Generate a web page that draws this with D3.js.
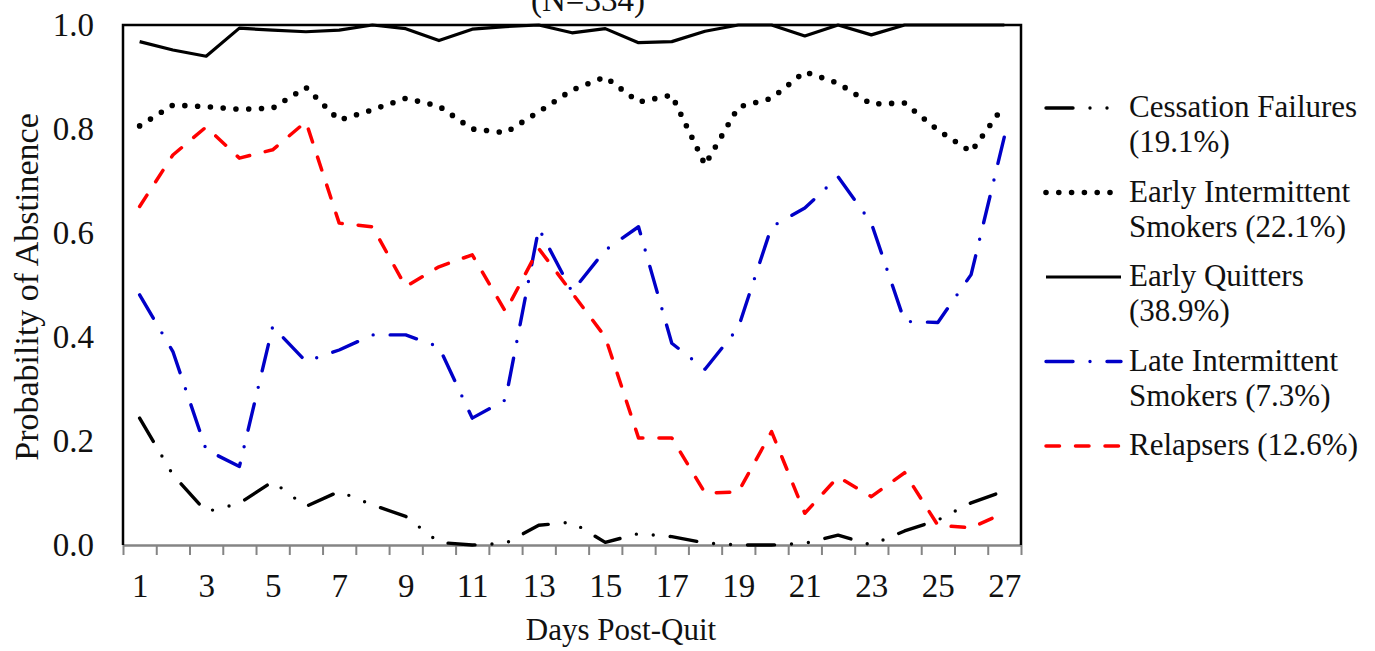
<!DOCTYPE html>
<html>
<head>
<meta charset="utf-8">
<script src="https://cdn.jsdelivr.net/npm/d3@7"></script>
<style>
  body { margin: 0; background: #fff; }
  text { font-family: 'Liberation Serif', 'Times New Roman', serif; fill: #111; }
</style>
</head>
<body>
<div id="graph"></div>
<script>
'use strict';

// days on the x axis
var days = [1, 2, 3, 4, 5, 6, 7, 8, 9, 10, 11, 12, 13, 14, 15, 16, 17, 18, 19, 20, 21, 22, 23, 24, 25, 26, 27];
var dayLabels = [1, 3, 5, 7, 9, 11, 13, 15, 17, 19, 21, 23, 25, 27];
var yTicks = [0, 0.2, 0.4, 0.6, 0.8, 1.0];

// probability of abstinence per day
var cessationFailures = [0.244, 0.135, 0.064, 0.080, 0.122, 0.074, 0.103, 0.077, 0.055, 0.005, 0.000, 0.003, 0.038, 0.044, 0.005, 0.022, 0.016, 0.004, 0.000, 0.000, 0.003, 0.019, 0.000, 0.027, 0.048, 0.081, 0.104];
var earlyIntermittent = [0.806, 0.846, 0.843, 0.838, 0.840, 0.880, 0.817, 0.837, 0.859, 0.844, 0.800, 0.793, 0.833, 0.875, 0.900, 0.852, 0.865, 0.731, 0.842, 0.859, 0.910, 0.888, 0.848, 0.850, 0.798, 0.756, 0.846];
var earlyQuitters = [0.968, 0.952, 0.940, 0.994, 0.990, 0.987, 0.990, 1.000, 0.993, 0.970, 0.992, 0.997, 1.000, 0.985, 0.993, 0.966, 0.968, 0.988, 1.000, 1.000, 0.979, 1.000, 0.981, 1.000, 1.000, 1.000, 1.000];
var lateIntermittent = [0.481, 0.372, 0.183, 0.151, 0.420, 0.353, 0.375, 0.404, 0.404, 0.381, 0.244, 0.279, 0.609, 0.487, 0.567, 0.612, 0.388, 0.338, 0.418, 0.612, 0.648, 0.708, 0.619, 0.430, 0.428, 0.520, 0.785];
var relapsers = [0.651, 0.750, 0.804, 0.744, 0.760, 0.814, 0.619, 0.612, 0.497, 0.535, 0.558, 0.449, 0.570, 0.485, 0.400, 0.206, 0.206, 0.100, 0.102, 0.218, 0.061, 0.131, 0.093, 0.139, 0.038, 0.033, 0.062];

var seriesNames = [
  ['Cessation Failures', '(19.1%)'],
  ['Early Intermittent', 'Smokers (22.1%)'],
  ['Early Quitters', '(38.9%)'],
  ['Late Intermittent', 'Smokers (7.3%)'],
  ['Relapsers (12.6%)']
];
var seriesValues = [cessationFailures, earlyIntermittent, earlyQuitters, lateIntermittent, relapsers];

// line styles, same order as the series
var styles = [
  { color: '#000', width: 3.4, dash: '27,17,0,17,0,17' },
  { color: '#000', width: 5.6, dash: '0,12.8' },
  { color: '#000', width: 3.2, dash: null },
  { color: '#0000c8', width: 3.4, dash: '27,17,0,17' },
  { color: '#ff0000', width: 3.5, dash: '13.5,16' }
];

var canvasWidth = 1375;
var canvasHeight = 651;
var plotLeft = 123, plotRight = 1021, plotTop = 25, plotBottom = 545;

var svg = d3.select('#graph')
  .append('svg')
  .attr('width', canvasWidth)
  .attr('height', canvasHeight);

var xScale = d3.scaleLinear().domain([0.5, 27.5]).range([plotLeft, plotRight]);
var yScale = d3.scaleLinear().domain([0, 1]).range([plotBottom, plotTop]);

// title (only the bottom line shows in the picture)
svg.append('text')
  .attr('x', 588)
  .attr('y', 11)
  .attr('text-anchor', 'middle')
  .style('font-size', '33px')
  .text('(N=334)');

// x axis: gray line, ticks between days
var xAxis = svg.append('g')
  .attr('transform', 'translate(0,' + plotBottom + ')')
  .call(d3.axisBottom(xScale)
    .tickValues(d3.range(0.5, 28, 1))
    .tickFormat('')
    .tickSize(10)
    .tickSizeOuter(0));
xAxis.select('.domain').attr('stroke', '#858585').attr('stroke-width', 2.5);
xAxis.selectAll('.tick line').attr('stroke', '#858585').attr('stroke-width', 2);

// odd day labels
var xLabels = svg.append('g')
  .attr('transform', 'translate(0,' + plotBottom + ')')
  .call(d3.axisBottom(xScale)
    .tickValues(dayLabels)
    .tickFormat(d3.format('d'))
    .tickSize(0)
    .tickPadding(29));
xLabels.select('.domain').remove();
xLabels.selectAll('text')
  .style('font-size', '33px')
  .attr('fill', '#111')
  .style('font-family', "'Liberation Serif', 'Times New Roman', serif");

// y axis labels
var yAxis = svg.append('g')
  .attr('transform', 'translate(' + plotLeft + ',0)')
  .call(d3.axisLeft(yScale)
    .tickValues(yTicks)
    .tickFormat(d3.format('.1f'))
    .tickSize(0)
    .tickPadding(29));
yAxis.select('.domain').remove();
yAxis.selectAll('text')
  .style('font-size', '33px')
  .attr('fill', '#111')
  .style('font-family', "'Liberation Serif', 'Times New Roman', serif");

// plot frame (left, top, right)
svg.append('path')
  .attr('d', 'M' + plotLeft + ',' + plotBottom + 'V' + plotTop + 'H' + plotRight + 'V' + plotBottom)
  .attr('fill', 'none')
  .attr('stroke', '#000')
  .attr('stroke-width', 2.5);

// the series lines
var line = d3.line()
  .x(function(d, i) { return xScale(days[i]); })
  .y(function(d) { return yScale(d); });

seriesValues.forEach(function(values, i) {
  svg.append('path')
    .datum(values)
    .attr('d', line)
    .attr('fill', 'none')
    .attr('stroke', styles[i].color)
    .attr('stroke-width', styles[i].width)
    .attr('stroke-dasharray', styles[i].dash)
    .attr('stroke-linecap', styles[i].dash ? 'round' : 'butt')
    .attr('stroke-linejoin', 'round');
});

// axis titles
svg.append('text')
  .attr('x', 621)
  .attr('y', 640)
  .attr('text-anchor', 'middle')
  .style('font-size', '31px')
  .text('Days Post-Quit');

svg.append('text')
  .attr('transform', 'translate(38,287) rotate(-90)')
  .attr('text-anchor', 'middle')
  .style('font-size', '34px')
  .text('Probability of Abstinence');

// legend
var legend = svg.append('g')
  .attr('class', 'legend');

seriesNames.forEach(function(lines, i) {
  var base = 117 + i * 84.5;
  legend.append('line')
    .attr('x1', 1046)
    .attr('x2', 1121)
    .attr('y1', base - 9)
    .attr('y2', base - 9)
    .attr('stroke', styles[i].color)
    .attr('stroke-width', styles[i].width)
    .attr('stroke-dasharray', styles[i].dash)
    .attr('stroke-linecap', styles[i].dash ? 'round' : 'butt');
  lines.forEach(function(t, j) {
    legend.append('text')
      .attr('x', 1129)
      .attr('y', base + j * 35)
      .style('font-size', '31px')
      .text(t);
  });
});
</script>
</body>
</html>
